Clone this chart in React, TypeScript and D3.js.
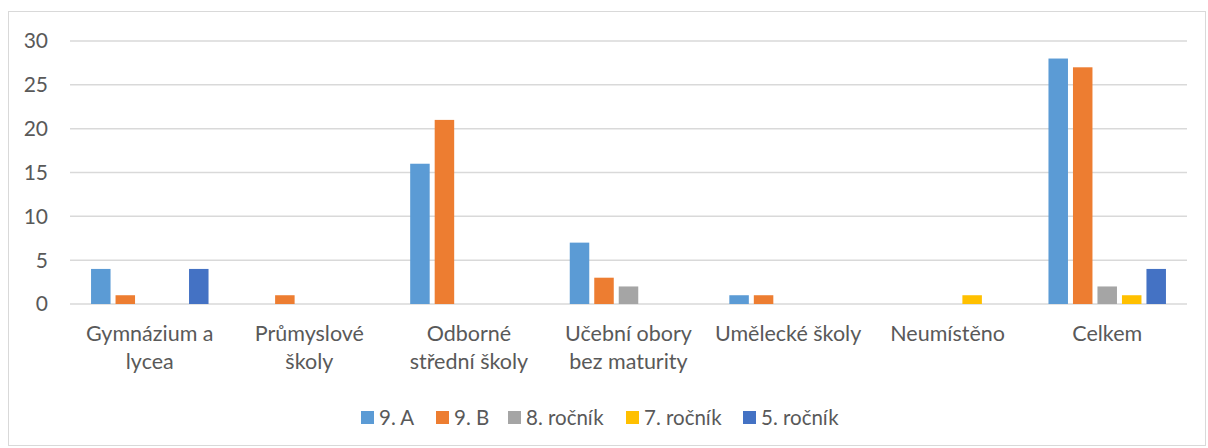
import React, { useRef, useEffect } from 'react';
import * as d3 from 'd3';

const categories = [
  ['Gymnázium a', 'lycea'],
  ['Průmyslové', 'školy'],
  ['Odborné', 'střední školy'],
  ['Učební obory', 'bez maturity'],
  ['Umělecké školy'],
  ['Neumístěno'],
  ['Celkem']
];
const seriesNames = ['9. A', '9. B', '8. ročník', '7. ročník', '5. ročník'];
const seriesColors = ['#5B9BD5', '#ED7D31', '#A5A5A5', '#FFC000', '#4472C4'];
// values per category, in series order
const values = [
  [4, 1, 0, 0, 4],
  [0, 1, 0, 0, 0],
  [16, 21, 0, 0, 0],
  [7, 3, 2, 0, 0],
  [1, 1, 0, 0, 0],
  [0, 0, 0, 1, 0],
  [28, 27, 2, 1, 4]
];
const yTicks = [0, 5, 10, 15, 20, 25, 30];

export default function App(): JSX.Element {
  const svgRef = useRef<SVGSVGElement>(null);
  useEffect(() => {
    const el = svgRef.current;
    if (el == null) {
      return;
    }
    const width = 1208;
    const height = 448;
    const plot = { left: 70, right: 1187, top: 41, bottom: 304 };
    const font = 'Lato, "Open Sans", sans-serif';
    const textColor = '#595959';

    const svg = d3.select(el);
    svg.selectAll('*').remove();

    // chart border
    svg
      .append('rect')
      .attr('x', 8.5)
      .attr('y', 11.5)
      .attr('width', width - 11)
      .attr('height', height - 14)
      .attr('fill', '#fff')
      .attr('stroke', '#D9D9D9');

    const x = d3
      .scaleBand()
      .domain(categories.map((_, i) => String(i)))
      .range([plot.left, plot.right]);
    const xs = d3
      .scaleBand()
      .domain(seriesNames)
      .range([0, x.bandwidth()])
      .paddingInner(0.204)
      .paddingOuter(0.859);
    const y = d3.scaleLinear().domain([0, 30]).range([plot.bottom, plot.top]);

    // gridlines
    svg
      .selectAll()
      .data(yTicks)
      .join('line')
      .attr('x1', plot.left)
      .attr('x2', plot.right)
      .attr('y1', (d) => y(d))
      .attr('y2', (d) => y(d))
      .attr('stroke', '#D9D9D9')
      .attr('stroke-width', 1.5);

    // y tick labels
    svg
      .selectAll()
      .data(yTicks)
      .join('text')
      .attr('x', 48)
      .attr('y', (d) => y(d))
      .attr('dy', '0.35em')
      .attr('text-anchor', 'end')
      .style('font-family', font)
      .style('font-size', '21px')
      .attr('fill', textColor)
      .text((d) => d);

    // bars
    const groups = svg
      .selectAll()
      .data(values)
      .join('g')
      .attr('transform', (_, i) => `translate(${x(String(i))},0)`);
    groups
      .selectAll('rect')
      .data((d) => d.map((v, j) => ({ v, j })))
      .join('rect')
      .attr('x', (d) => xs(seriesNames[d.j]) as number)
      .attr('y', (d) => y(d.v))
      .attr('width', xs.bandwidth())
      .attr('height', (d) => y(0) - y(d.v))
      .attr('fill', (d) => seriesColors[d.j]);

    // category labels
    const labels = svg
      .selectAll()
      .data(categories)
      .join('text')
      .attr('text-anchor', 'middle')
      .style('font-family', font)
      .style('font-size', '21.5px')
      .attr('fill', textColor);
    labels
      .selectAll('tspan')
      .data((d, i) => d.map((t) => ({ t, i })))
      .join('tspan')
      .attr('x', (d) => (x(String(d.i)) as number) + x.bandwidth() / 2)
      .attr('y', (_, k) => 341 + k * 28)
      .text((d) => d.t);

    // legend
    const legendX = [361, 436, 508, 626, 743];
    const legend = svg
      .selectAll()
      .data(seriesNames)
      .join('g')
      .attr('transform', (_, i) => `translate(${legendX[i]},411)`);
    legend
      .append('rect')
      .attr('width', 13)
      .attr('height', 13)
      .attr('fill', (_, i) => seriesColors[i]);
    legend
      .append('text')
      .attr('x', 18)
      .attr('y', 6.5)
      .attr('dy', '0.36em')
      .style('font-family', font)
      .style('font-size', '20.5px')
      .attr('fill', textColor)
      .text((d) => d);
  }, []);
  return (
    <svg
      ref={svgRef}
      width={1208}
      height={448}
      style={{ position: 'absolute', left: 0, top: 0, background: '#fff' }}
    />
  );
}
